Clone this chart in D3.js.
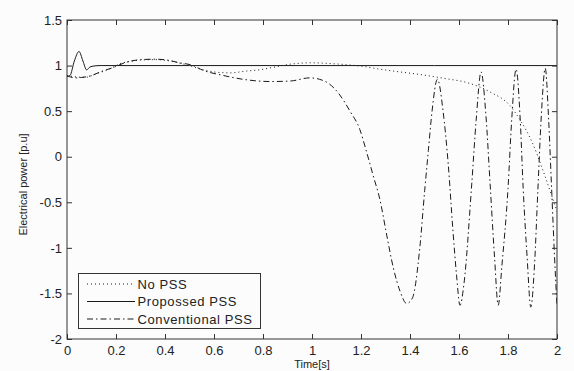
<!DOCTYPE html>
<html>
<head>
<meta charset="utf-8">
<script src="https://cdn.jsdelivr.net/npm/d3@7/dist/d3.min.js"></script>
<style>
html,body{margin:0;padding:0;background:#fcfcfc;}
svg{display:block;}
text{font-family:"Liberation Sans",Arial,sans-serif;fill:#222;}
</style>
</head>
<body>
<svg id="chart" width="574" height="371"></svg>
<script>
// ---- data ----
const xTicks = [0,0.2,0.4,0.6,0.8,1,1.2,1.4,1.6,1.8,2];
const xTickLabels = ["0","0.2","0.4","0.6","0.8","1","1.2","1.4","1.6","1.8","2"];
const yTicks = [-2,-1.5,-1,-0.5,0,0.5,1,1.5];
const yTickLabels = ["-2","-1.5","-1","-0.5","0","0.5","1","1.5"];
const seriesNames = ["No PSS","Propossed PSS","Conventional PSS"];

const noPssT = [0,0.04,0.073,0.12,0.176,0.216,0.257,0.3,0.36,0.42,0.47,0.5,0.54,0.6,0.665,0.733,0.79,0.84,0.91,1.0,1.087,1.14,1.21,1.278,1.345,1.433,1.55,1.63,1.727,1.808,1.85,1.9,1.94,1.98,2.0];
const noPssP = [0.89,0.875,0.87,0.91,0.965,1.02,1.045,1.06,1.065,1.05,1.02,1.0,0.965,0.93,0.92,0.94,0.955,0.98,1.015,1.03,1.02,1.01,0.99,0.96,0.935,0.905,0.855,0.815,0.71,0.56,0.40,0.15,-0.13,-0.44,-0.6];

const propT = [0,0.012,0.03,0.049,0.065,0.08,0.094,0.11,0.135,0.5,1.0,1.5,2.0];
const propP = [0.88,0.89,1.05,1.155,1.05,0.953,0.985,0.995,1.0,1.0,1.0,1.0,1.0];

const convT = [0,0.02,0.04,0.06,0.1,0.135,0.19,0.24,0.3,0.36,0.41,0.46,0.515,0.545,0.64,0.73,0.83,0.91,0.99,1.03,1.07,1.11,1.155,1.195,1.223,1.25,1.278,1.305,1.332,1.36,1.386,1.41,1.44,1.46,1.475,1.49,1.512,1.535,1.556,1.575,1.59,1.604,1.62,1.652,1.67,1.69,1.71,1.727,1.745,1.76,1.775,1.8,1.815,1.833,1.85,1.862,1.878,1.893,1.908,1.922,1.936,1.952,1.966,1.978,1.99,2.0];
const convP = [0.89,0.87,0.865,0.87,0.89,0.93,0.98,1.035,1.065,1.07,1.06,1.03,1.0,0.96,0.89,0.845,0.825,0.83,0.865,0.85,0.80,0.69,0.50,0.30,0.05,-0.21,-0.48,-0.86,-1.22,-1.48,-1.61,-1.55,-1.0,-0.37,0.07,0.5,0.85,0.5,-0.08,-0.8,-1.3,-1.63,-1.4,-0.3,0.4,0.93,0.45,-0.3,-1.1,-1.63,-1.2,-0.35,0.4,0.96,0.4,-0.35,-1.1,-1.65,-1.2,-0.36,0.45,0.97,0.4,-0.35,-1.1,-1.64];

// ---- layout ----
const svg = d3.select("#chart");
const L = 67, R = 557, T = 20, B = 339;
const x = d3.scaleLinear().domain([0,2]).range([L,R]);
const y = d3.scaleLinear().domain([-2,1.5]).range([B,T]);

const axisColor = "#333";
svg.append("rect").attr("x",L).attr("y",T).attr("width",R-L).attr("height",B-T)
  .attr("fill","#fcfcfc").attr("stroke","none");

const line = d3.line().x(d=>x(d[0])).y(d=>y(d[1])).curve(d3.curveMonotoneX);
const zip = (a,b)=>a.map((v,i)=>[v,b[i]]);

const styles = [
  {dash:"1,3", w:1},
  {dash:null, w:1},
  {dash:"6,3,1.5,3", w:1}
];
const series = [zip(noPssT,noPssP), zip(propT,propP), zip(convT,convP)];

svg.append("clipPath").attr("id","clip").append("rect")
  .attr("x",L).attr("y",T).attr("width",R-L).attr("height",B-T);
const g = svg.append("g").attr("clip-path","url(#clip)");
series.forEach((s,i)=>{
  g.append("path").datum(s).attr("d",line)
    .attr("fill","none").attr("stroke","#1a1a1a")
    .attr("stroke-width",styles[i].w)
    .attr("stroke-dasharray",styles[i].dash);
});

function styleAxis(sel){
  sel.selectAll("path").attr("stroke",axisColor);
  sel.selectAll("line").attr("stroke",axisColor);
  sel.selectAll("text").attr("fill","#222")
    .style("font-family","'Liberation Sans',Arial,sans-serif")
    .style("font-size","13px");
}
const fx = d => xTickLabels[xTicks.indexOf(d)];
const fy = d => yTickLabels[yTicks.indexOf(d)];

svg.append("g").attr("transform",`translate(0,${B})`)
  .call(d3.axisBottom(x).tickValues(xTicks).tickFormat(fx).tickSizeInner(-5).tickSizeOuter(0).tickPadding(7))
  .call(styleAxis).call(s=>s.select(".domain").remove());
svg.append("g").attr("transform",`translate(0,${T})`)
  .call(d3.axisTop(x).tickValues(xTicks).tickFormat("").tickSizeInner(-5).tickSizeOuter(0))
  .call(styleAxis).call(s=>s.select(".domain").remove());
svg.append("g").attr("transform",`translate(${L},0)`)
  .call(d3.axisLeft(y).tickValues(yTicks).tickFormat(fy).tickSizeInner(-5).tickSizeOuter(0).tickPadding(5))
  .call(styleAxis).call(s=>s.select(".domain").remove());
svg.append("g").attr("transform",`translate(${R},0)`)
  .call(d3.axisRight(y).tickValues(yTicks).tickFormat("").tickSizeInner(-5).tickSizeOuter(0))
  .call(styleAxis).call(s=>s.select(".domain").remove());

svg.append("rect").attr("x",L).attr("y",T).attr("width",R-L).attr("height",B-T)
  .attr("fill","none").attr("stroke",axisColor).attr("stroke-width",1);

svg.append("text").attr("x",(L+R)/2).attr("y",368).attr("text-anchor","middle")
  .style("font-size","11px").text("Time[s]");
svg.append("text").attr("transform",`translate(27,${(T+B)/2+5}) rotate(-90)`)
  .attr("text-anchor","middle").style("font-size","11px").text("Electrical power [p.u]");

const lg = svg.append("g");
lg.append("rect").attr("x",78.5).attr("y",273.5).attr("width",182).attr("height",55)
  .attr("fill","#fcfcfc").attr("stroke",axisColor).attr("stroke-width",1);
const rowsY = [284,301.5,319];
seriesNames.forEach((n,i)=>{
  lg.append("line").attr("x1",87).attr("x2",135).attr("y1",rowsY[i]).attr("y2",rowsY[i])
    .attr("stroke","#1a1a1a").attr("stroke-width",styles[i].w).attr("stroke-dasharray",styles[i].dash);
  lg.append("text").attr("x",137.5).attr("y",rowsY[i]+4.5)
    .style("font-size","13px").style("letter-spacing","0.6px").text(n);
});
</script>
</body>
</html>
